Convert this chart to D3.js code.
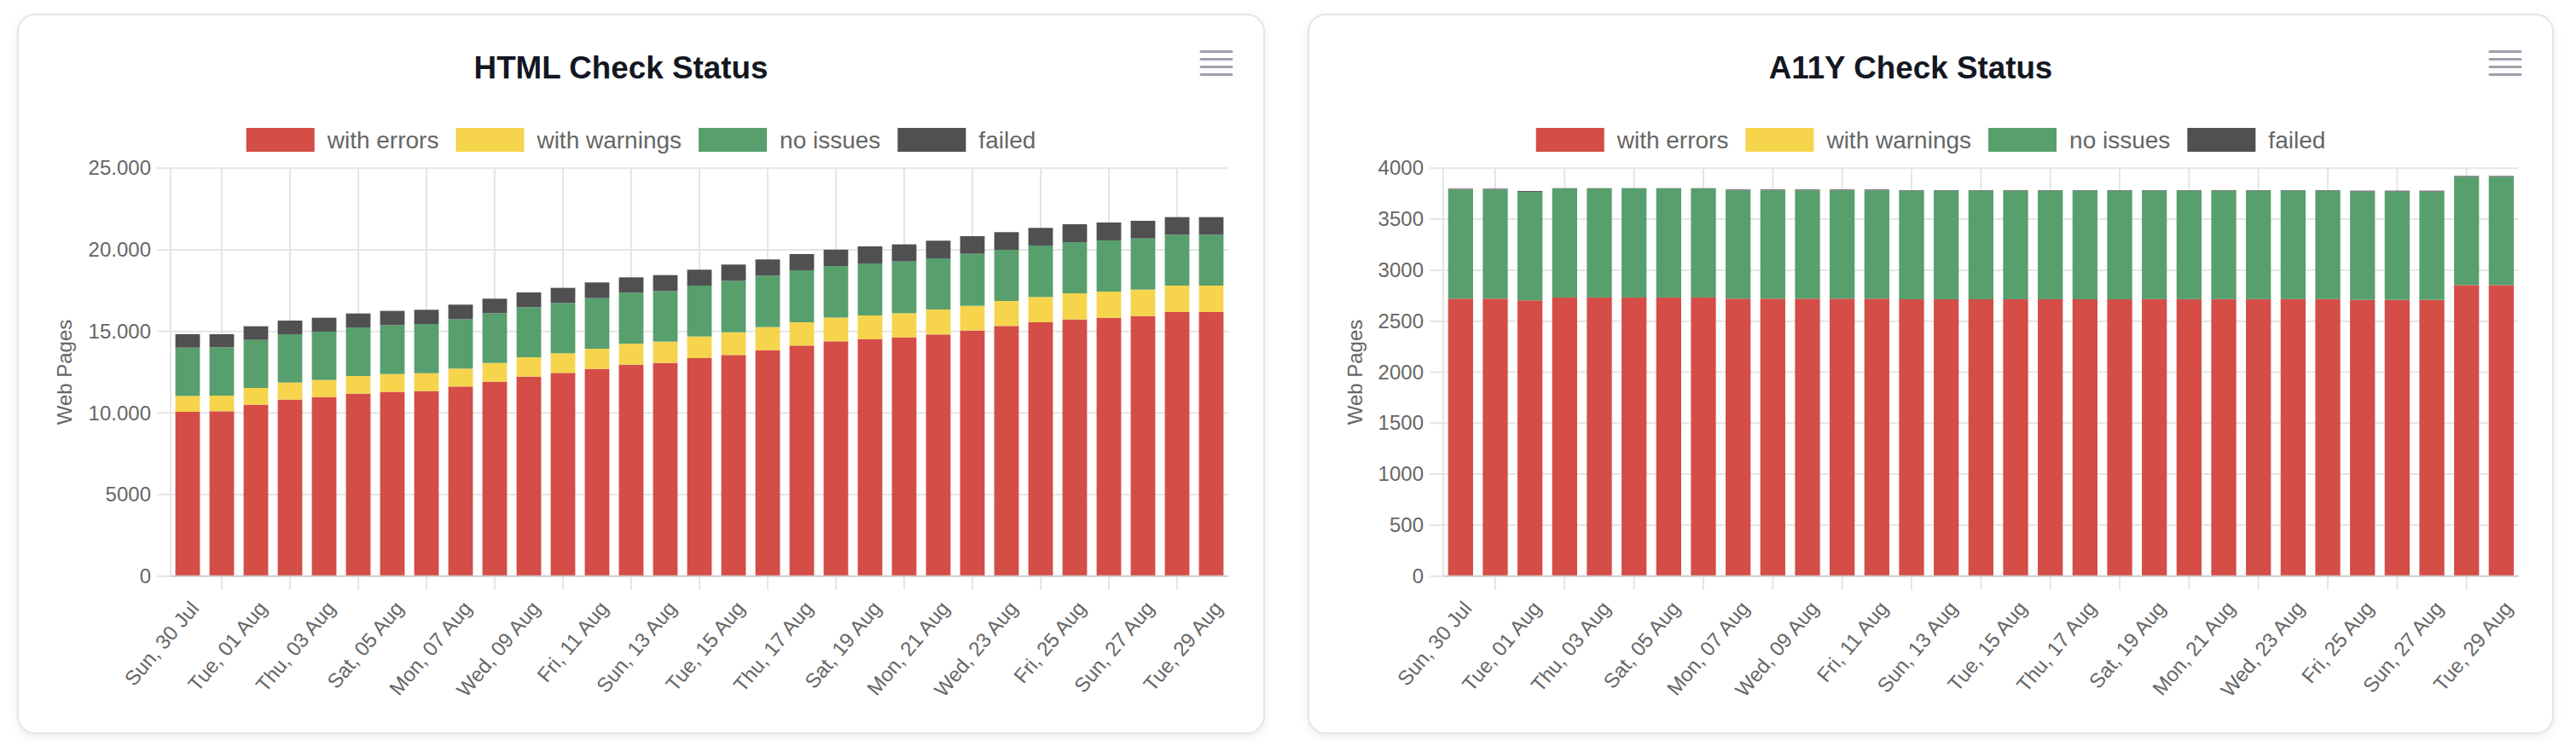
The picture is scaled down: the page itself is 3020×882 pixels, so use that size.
<!DOCTYPE html>
<html>
<head>
<meta charset="utf-8">
<script src="https://cdnjs.cloudflare.com/ajax/libs/d3/7.8.5/d3.min.js"></script>
<style>
  html, body { margin: 0; padding: 0; background: #ffffff; }
  svg { display: block; font-family: "Liberation Sans", Arial, Helvetica, sans-serif; }
</style>
</head>
<body>
<svg id="chart" width="3020" height="882"></svg>
<script>
// ---------------- DATA ----------------
const categories = ["Sun, 30 Jul","Mon, 31 Jul","Tue, 01 Aug","Wed, 02 Aug","Thu, 03 Aug","Fri, 04 Aug","Sat, 05 Aug","Sun, 06 Aug","Mon, 07 Aug","Tue, 08 Aug","Wed, 09 Aug","Thu, 10 Aug","Fri, 11 Aug","Sat, 12 Aug","Sun, 13 Aug","Mon, 14 Aug","Tue, 15 Aug","Wed, 16 Aug","Thu, 17 Aug","Fri, 18 Aug","Sat, 19 Aug","Sun, 20 Aug","Mon, 21 Aug","Tue, 22 Aug","Wed, 23 Aug","Thu, 24 Aug","Fri, 25 Aug","Sat, 26 Aug","Sun, 27 Aug","Mon, 28 Aug","Tue, 29 Aug"];

const seriesNames = ["with errors", "with warnings", "no issues", "failed"];
const seriesColors = ["#d44d47", "#f6d44c", "#589f6e", "#505050"];

const htmlErrors   = [10070,10105,10505,10819,10976,11185,11289,11342,11620,11917,12230,12457,12701,12962,13067,13363,13554,13850,14129,14391,14513,14634,14809,15053,15331,15558,15732,15837,15941,16185,16185];
const htmlWarnings = [976,958,1028,1045,1045,1080,1098,1097,1098,1149,1185,1202,1237,1289,1306,1324,1394,1412,1429,1455,1463,1481,1533,1515,1533,1550,1603,1602,1620,1620,1620];
const htmlNoIssues = [2961,2962,2945,2962,2962,2979,2997,3014,3031,3049,3066,3084,3101,3119,3101,3118,3153,3153,3188,3161,3188,3171,3136,3188,3136,3154,3136,3136,3136,3119,3119];
const htmlFailed   = [819,801,836,836,854,854,871,871,889,889,906,923,958,941,976,976,994,993,993,1002,1046,1046,1080,1081,1081,1080,1097,1098,1081,1079,1079];

const a11yErrors   = [2721,2721,2704,2732,2732,2732,2732,2732,2721,2721,2721,2721,2721,2715,2715,2715,2715,2715,2715,2715,2716,2716,2716,2716,2716,2716,2709,2709,2709,2854,2854];
const a11yWarnings = [0,0,0,0,0,0,0,0,0,0,0,0,0,0,0,0,0,0,0,0,0,0,0,0,0,0,0,0,0,0,0];
const a11yNoIssues = [1070,1070,1065,1070,1070,1070,1070,1070,1062,1062,1062,1062,1062,1065,1065,1065,1065,1065,1065,1065,1064,1064,1064,1064,1064,1064,1063,1063,1063,1062,1062];
const a11yFailed   = [8,8,8,2,2,2,2,2,8,8,8,8,8,5,5,5,5,5,5,5,5,5,5,5,5,5,8,8,8,8,8];

const htmlTickValues = [0,5000,10000,15000,20000,25000];
const htmlTickLabels = ["0","5000","10.000","15.000","20.000","25.000"];
const a11yTickValues = [0,500,1000,1500,2000,2500,3000,3500,4000];
const a11yTickLabels = ["0","500","1000","1500","2000","2500","3000","3500","4000"];

// ---------------- DRAWING ----------------
const svg = d3.select("#chart");
const defs = svg.append("defs");
const f = defs.append("filter").attr("id", "shadow").attr("x", "-5%").attr("y", "-5%").attr("width", "110%").attr("height", "115%");
f.append("feDropShadow").attr("dx", 0).attr("dy", 3).attr("stdDeviation", 5).attr("flood-color", "#000").attr("flood-opacity", 0.08);

function drawChart(cfg) {
  const card = cfg.card;
  const g = svg.append("g");
  // card
  g.append("rect")
    .attr("x", card.x).attr("y", card.y).attr("width", card.w).attr("height", card.h)
    .attr("rx", 20).attr("ry", 20)
    .attr("fill", "#ffffff").attr("stroke", "#e4e4e9").attr("stroke-width", 2)
    .attr("filter", "url(#shadow)");

  const cardCx = card.x + card.w / 2;

  // title
  g.append("text")
    .attr("x", cardCx - 23.5).attr("y", 92)
    .attr("text-anchor", "middle")
    .attr("font-size", 36.8).attr("font-weight", "bold").attr("fill", "#131722")
    .text(cfg.title);

  // hamburger menu
  const hx1 = card.x + card.w - 74, hx2 = card.x + card.w - 38;
  [60.5, 69.5, 78.5, 87.5].forEach(yy => {
    g.append("line").attr("x1", hx1).attr("x2", hx2).attr("y1", yy).attr("y2", yy)
      .attr("stroke", "#9da1ad").attr("stroke-width", 3).attr("stroke-linecap", "round");
  });

  // legend
  const leg = g.append("g");
  let lx = 0;
  seriesNames.forEach((name, i) => {
    const it = leg.append("g");
    it.append("rect").attr("x", lx).attr("y", 150).attr("width", 80).attr("height", 28).attr("fill", seriesColors[i]);
    const t = it.append("text").attr("x", lx + 95).attr("y", 173.5)
      .attr("font-size", 28).attr("fill", "#666666").text(name);
    const tw = t.node().getComputedTextLength();
    lx += 95 + tw + 20;
  });
  const legW = lx - 20;
  leg.attr("transform", `translate(${cardCx - legW / 2},0)`);

  // scales
  const P = cfg.plot;
  const x = d3.scaleBand().domain(categories).range([P.left, P.right]).paddingInner(0.28).paddingOuter(0.14);
  const y = d3.scaleLinear().domain([0, cfg.yMax]).range([P.bottom, P.top]);

  // horizontal grid
  g.append("g").selectAll("line").data(cfg.tickValues).join("line")
    .attr("x1", P.left - 16).attr("x2", P.right)
    .attr("y1", d => y(d)).attr("y2", d => y(d))
    .attr("stroke", "#e5e5e5").attr("stroke-width", 2);

  // vertical grid: left edge + every other category (odd indices)
  g.append("line").attr("x1", P.left).attr("x2", P.left).attr("y1", P.top).attr("y2", P.bottom)
    .attr("stroke", "#e5e5e5").attr("stroke-width", 2);
  const gridCats = categories.filter((c, i) => i % 2 === 1);
  g.append("g").selectAll("line").data(gridCats).join("line")
    .attr("x1", d => x(d) + x.bandwidth() / 2).attr("x2", d => x(d) + x.bandwidth() / 2)
    .attr("y1", P.top).attr("y2", P.bottom + 16)
    .attr("stroke", "#e5e5e5").attr("stroke-width", 2);

  // stacked bars
  const rows = categories.map((c, i) => ({
    cat: c,
    "with errors": cfg.series[0][i],
    "with warnings": cfg.series[1][i],
    "no issues": cfg.series[2][i],
    "failed": cfg.series[3][i]
  }));
  const stacked = d3.stack().keys(seriesNames)(rows);
  g.append("g").selectAll("g").data(stacked).join("g")
    .attr("fill", (d, i) => seriesColors[i])
    .selectAll("rect").data(d => d).join("rect")
    .attr("x", d => x(d.data.cat))
    .attr("width", x.bandwidth())
    .attr("y", d => y(d[1]))
    .attr("height", d => Math.max(0, y(d[0]) - y(d[1])));

  // bottom axis line
  g.append("line").attr("x1", P.left).attr("x2", P.right).attr("y1", P.bottom).attr("y2", P.bottom)
    .attr("stroke", "#cfcfcf").attr("stroke-width", 2);

  // y axis labels
  const yAxis = d3.axisLeft(y).tickValues(cfg.tickValues)
    .tickFormat((d, i) => cfg.tickLabels[i]).tickSize(0).tickPadding(23);
  const ya = g.append("g").attr("transform", `translate(${P.left},0)`).call(yAxis);
  ya.select(".domain").remove();
  ya.selectAll("text").attr("font-size", 24).attr("fill", "#666666")
    .attr("font-family", "'Liberation Sans', Arial, sans-serif");

  // x axis labels (every other category)
  const labelCats = categories.filter((c, i) => i % 2 === 0);
  const xAxis = d3.axisBottom(x).tickValues(labelCats).tickSize(0).tickPadding(0);
  const xa = g.append("g").attr("transform", `translate(0,${P.bottom})`).call(xAxis);
  xa.select(".domain").remove();
  xa.selectAll(".tick text")
    .attr("font-size", 24).attr("fill", "#666666")
    .attr("font-family", "'Liberation Sans', Arial, sans-serif")
    .attr("text-anchor", "end")
    .attr("x", 0).attr("y", 0).attr("dy", "0.35em")
    .attr("transform", "translate(8,33) rotate(-50)");

  // y title
  g.append("text")
    .attr("transform", `translate(${card.x + 55},${(P.top + P.bottom) / 2}) rotate(-90)`)
    .attr("text-anchor", "middle").attr("dy", "0.35em")
    .attr("font-size", 24).attr("fill", "#666666")
    .text("Web Pages");
}

drawChart({
  title: "HTML Check Status",
  card: { x: 21, y: 17, w: 1461, h: 843 },
  plot: { left: 200, right: 1440, top: 197.3, bottom: 675.7 },
  yMax: 25000,
  tickValues: htmlTickValues, tickLabels: htmlTickLabels,
  series: [htmlErrors, htmlWarnings, htmlNoIssues, htmlFailed]
});

drawChart({
  title: "A11Y Check Status",
  card: { x: 1534, y: 17, w: 1459, h: 843 },
  plot: { left: 1692, right: 2952.7, top: 197.3, bottom: 675.7 },
  yMax: 4000,
  tickValues: a11yTickValues, tickLabels: a11yTickLabels,
  series: [a11yErrors, a11yWarnings, a11yNoIssues, a11yFailed]
});
</script>
</body>
</html>
